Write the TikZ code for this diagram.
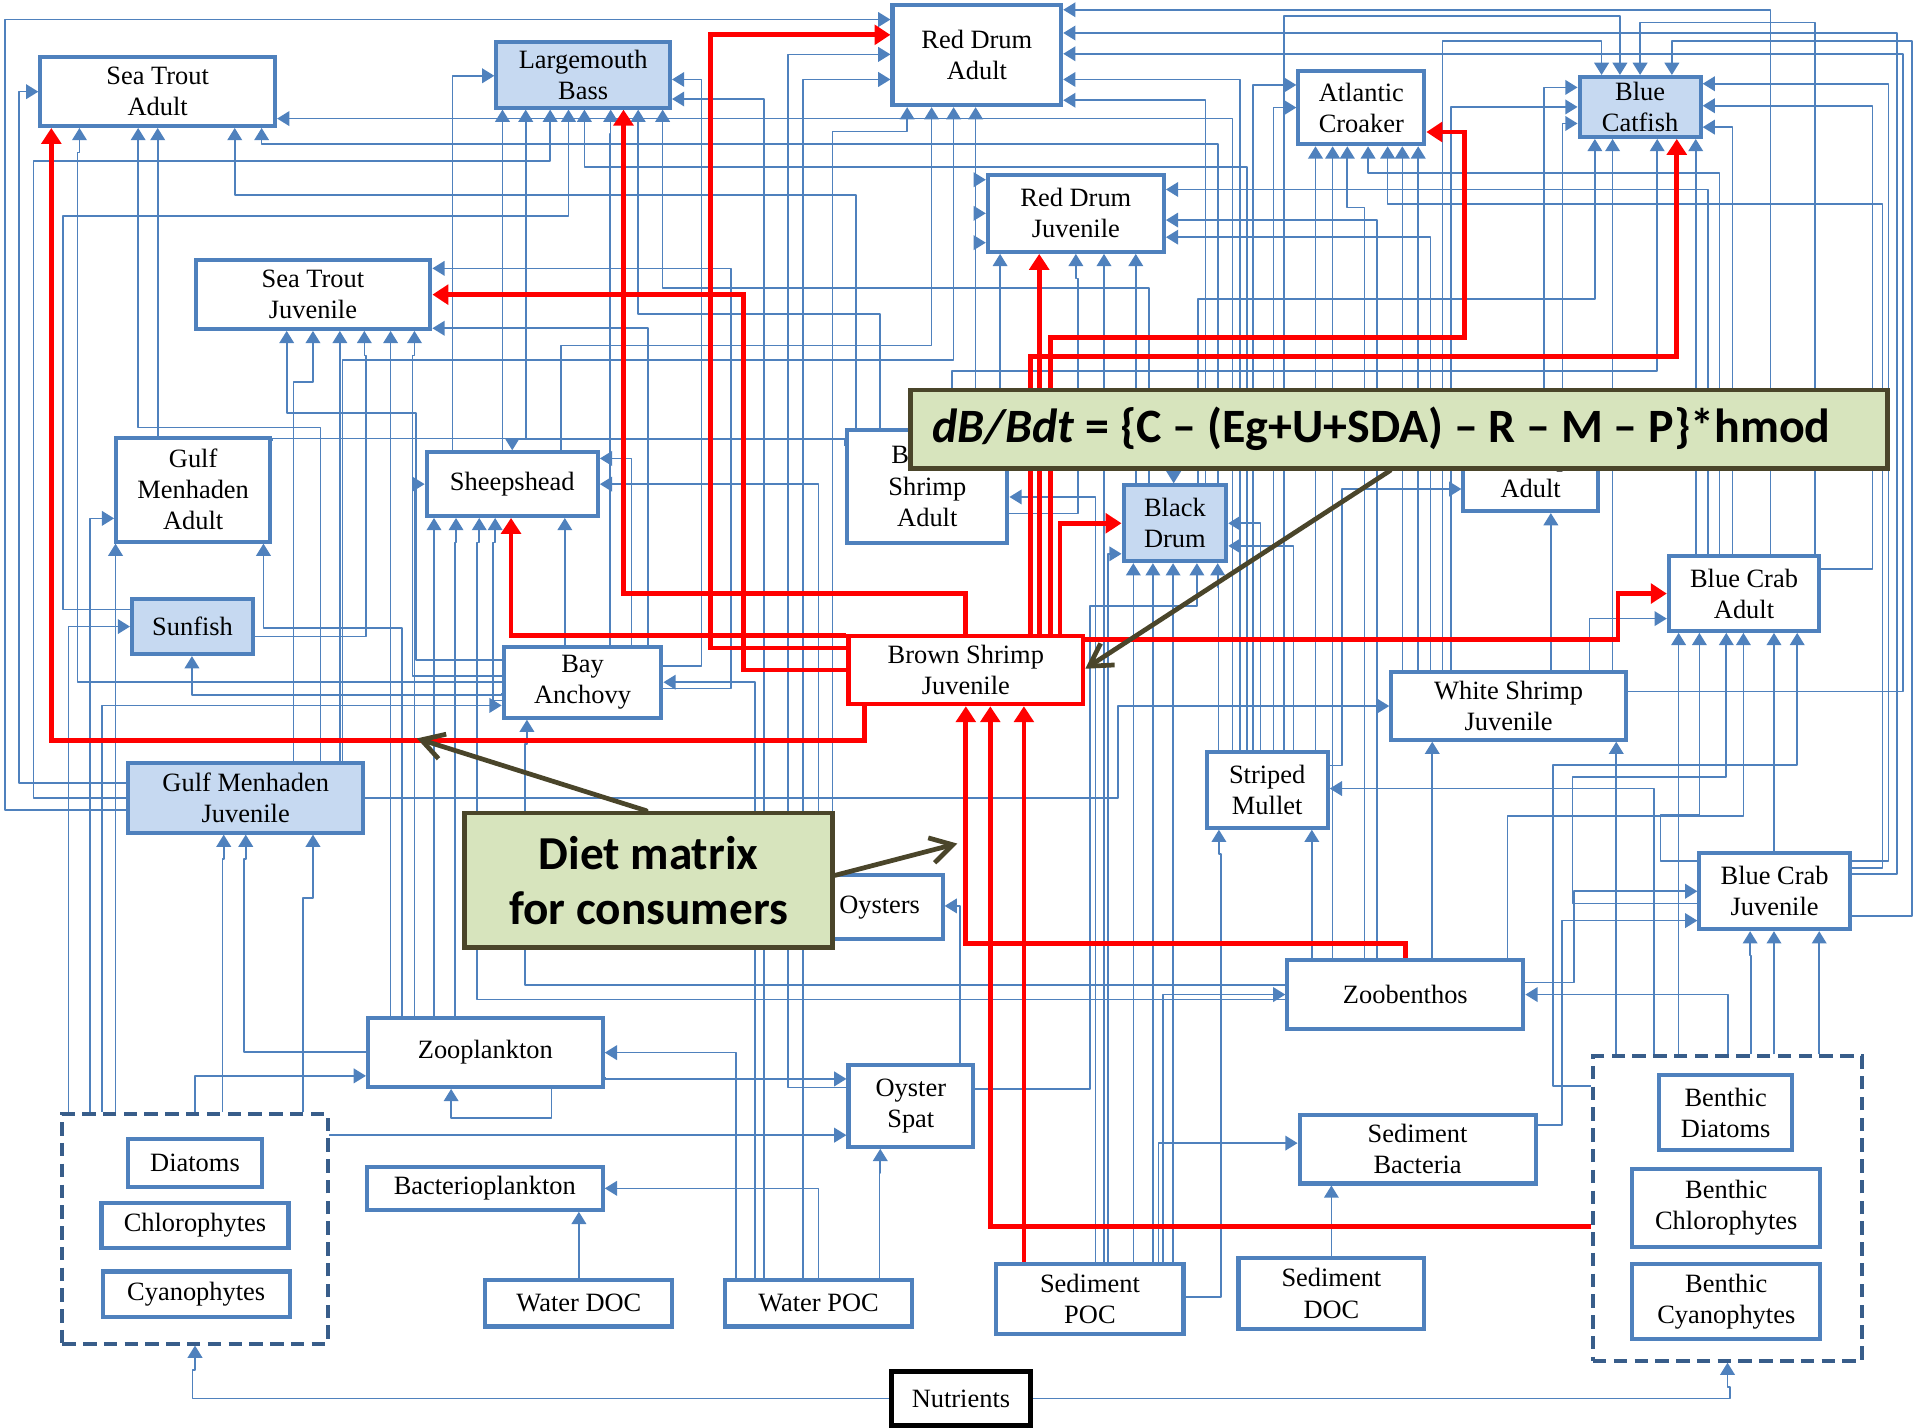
\documentclass[tikz,border=0pt]{standalone}
\usepackage{fontspec}
\setmainfont{Liberation Serif}
\newfontfamily\calib{Carlito}
\usetikzlibrary{calc,arrows.meta}
\definecolor{boxblue}{HTML}{4F81BD}
\definecolor{fillblue}{HTML}{C6D9F1}
\definecolor{dashblue}{HTML}{385D8A}
\definecolor{olivedark}{HTML}{4A452A}
\definecolor{olivelight}{HTML}{D7E4BD}
\pgfdeclarelayer{back}
\pgfsetlayers{back,main}
\tikzset{
  box/.style={draw=boxblue,line width=1.9pt,fill=white,align=center,inner sep=0pt,font=\fontsize{12.3}{14.5}\selectfont},
  shaded/.style={box,fill=fillblue},
  grp/.style={draw=dashblue,line width=1.8pt,dash pattern=on 0.22cm off 0.12cm,fill=white,inner sep=0pt},
  sz/.style 2 args={minimum width=#1*0.02cm,minimum height=#2*0.02cm},
  flow/.style={draw=boxblue,line width=0.75pt,line join=round,-{Triangle[length=0.2cm,width=0.24cm]}},
  prey/.style={draw=red,line width=2.2pt,-{Triangle[length=0.26cm,width=0.32cm]}},
  eqbox/.style={draw=olivedark,line width=2.2pt,fill=olivelight,inner sep=0pt,font=\calib\bfseries\fontsize{22}{25.6}\selectfont},
  note/.style={draw=olivedark,line width=2.2pt,line cap=round,-{Straight Barb[length=0.36cm,width=0.42cm]}}
}

\begin{document}
\begin{tikzpicture}[x=0.02cm,y=-0.02cm]
\useasboundingbox (0,0) rectangle (1568,1168);

\node[box,sz={192}{56}] (sta) at (129,75) {Sea Trout\\Adult};
\node[shaded,sz={142}{54}] (lmb) at (477,61) {Largemouth\\Bass};
\node[box,sz={138}{82}] (rda) at (799,45) {Red Drum\\Adult};
\node[box,sz={103}{60}] (acr) at (1113.5,88) {Atlantic\\Croaker};
\node[shaded,sz={99}{49}] (bcf) at (1341.5,87.5) {Blue\\Catfish};
\node[box,sz={144}{63}] (rdj) at (880,174.5) {Red Drum\\Juvenile};
\node[box,sz={192}{56}] (stj) at (256,241) {Sea Trout\\Juvenile};
\node[box,sz={126}{85}] (gma) at (158,400.5) {Gulf\\Menhaden\\Adult};
\node[box,sz={140}{52}] (shd) at (419,396) {Sheepshead};
\node[box,sz={131}{92}] (bsa) at (758.5,398) {Brown\\Shrimp\\Adult};
\node[shaded,sz={84}{62}] (bkd) at (961,428) {Black\\Drum};
\node[box,sz={110}{88}] (wsa) at (1252,374) {White\\Shrimp\\Adult};
\node[box,sz={123}{61}] (bca) at (1426.5,485.5) {Blue Crab\\Adult};
\node[shaded,sz={99}{45}] (sun) at (157.5,512.5) {Sunfish};
\node[box,sz={129}{58}] (bay) at (476.5,558) {Bay\\Anchovy};
\node[box,draw=red,sz={192}{56}] (bsj) at (790,548) {Brown Shrimp\\Juvenile};
\node[box,sz={192}{55}] (wsj) at (1234,577.5) {White Shrimp\\Juvenile};
\node[box,sz={99}{62}] (smu) at (1036.5,646) {Striped\\Mullet};
\node[shaded,sz={192}{57}] (gmj) at (201,652.5) {Gulf Menhaden\\Juvenile};
\node[box,sz={103}{52}] (oys) at (719.5,742) {Oysters};
\node[box,sz={123}{62}] (bcj) at (1451.5,729) {Blue Crab\\Juvenile};
\node[box,sz={193}{57}] (zob) at (1149.5,813.5) {Zoobenthos};
\node[box,sz={192}{56}] (zoo) at (397,861) {Zooplankton};
\node[box,sz={102}{67}] (osp) at (745,904.5) {Oyster\\Spat};
\node[grp,sz={217}{188}] (phy) at (159.5,1005) {};
\node[box,sz={109}{39}] (dia) at (159.5,951.5) {Diatoms};
\node[box,sz={153}{37}] (chl) at (159.5,1002.5) {Chlorophytes};
\node[box,sz={153}{37}] (cya) at (160.5,1058.5) {Cyanophytes};
\node[box,sz={193}{35}] (bac) at (396.5,972) {Bacterioplankton};
\node[box,sz={193}{56}] (sbac) at (1159.5,940) {Sediment\\Bacteria};
\node[grp,sz={220}{249}] (ben) at (1413,988.5) {};
\node[box,sz={109}{62}] (bdi) at (1411.5,910) {Benthic\\Diatoms};
\node[box,sz={154}{64}] (bch) at (1412,988) {Benthic\\Chlorophytes};
\node[box,sz={154}{61}] (bcy) at (1412,1064.5) {Benthic\\Cyanophytes};
\node[box,sz={153}{38}] (wdoc) at (473.5,1066) {Water DOC};
\node[box,sz={153}{38}] (wpoc) at (669.5,1066) {Water POC};
\node[box,sz={153}{57}] (spoc) at (891.5,1062.5) {Sediment\\POC};
\node[box,sz={152}{58}] (sdoc) at (1089,1058) {Sediment\\DOC};
\node[box,draw=black,line width=2.2pt,sz={114}{44}] (nut) at (786,1144) {Nutrients};

\begin{pgfonlayer}{back}
\foreach \src/\sx/\sy/\hx/\dst/\dx/\lv in {
  bay.west/0/0/-347/sta.south/-64/20, gmj.north/61/0/0/sta.south/-16/245,
  gma.north/-29/0/0/sta.south/0/20, bsa.north/-58.5/0/0/sta.south/63/55,
  bkd.north/35/0/0/sta.south/85/13, shd.north/-8/0/0/lmb.south/-66/20,
  gma.east/0/-40/0/lmb.south/-47/269, gmj.west/0/0/-76/lmb.south/-27/42,
  sun.west/0/-14/-55/lmb.south/-12/87, smu.north/-16.5/0/0/lmb.south/1/47,
  bay.north/22.5/0/0/lmb.south/22.5/20, bsa.north/-38.5/0/0/lmb.south/45/167,
  bkd.north/-21/0/0/lmb.south/65/146, oys.north/-38.5/0/0/rda.south/-57/20,
  shd.north/40/0/0/rda.south/-37/195, gmj.north/79/0/0/rda.south/-19/207,
  bsa.north/39.5/0/0/rda.south/-1/20, bsa.north/59.5/0/0/rdj.south/-62/20,
  bsa.east/0/22/56/rdj.south/0/20, spoc.north/11.5/0/0/rdj.south/23/20,
  bkd.north/-32/0/0/rdj.south/49/20, smu.north/39.5/0/0/acr.south/-37.5/20,
  zob.north/-59.5/0/0/acr.south/-23.5/20, zob.north/-33.5/0/0/acr.south/-11.5/50,
  bca.north/-20/0/0/acr.south/5.5/22, bcj.east/0/-19/25/acr.south/21.5/47,
  wsj.north/-87/0/0/acr.south/33.5/20, wsj.north/-74/0/0/acr.south/46.5/20,
  wsj.north/-54/0/0/bcf.north/-31.5/-28, smu.north/13.5/0/0/bcf.north/-16.5/-48,
  bca.north/58/0/0/bcf.north/0/-43, bcj.east/0/20/49/bcf.north/26/-28,
  bkd.north/19/0/0/bcf.south/-37/131, wsj.north/85/0/0/bcf.south/-22.5/20,
  bsa.north/20/0/0/bcf.south/14/190, bca.north/-39.5/0/0/bcf.south/45.5/20,
  ben.north/-40/0/0/bca.south/-53.5/20, bcj.west/0/-25/-30/bca.south/-36.5/149,
  bcj.west/0/10/-102/bca.south/-14.5/118, zob.north/83.5/0/0/bca.south/-0.5/150,
  bcj.north/-0.5/0/0/bca.south/24.5/20, ben.west/0/-100/-31/bca.south/43.5/108,
  bay.west/0/-18/-70/stj.south/-21.5/67, gmj.north/39/0/0/stj.south/0/42,
  gmj.north/77/0/0/stj.south/22/20, sun.east/0/8/90.7/stj.south/42/20,
  zoo.north/-77.5/0/0/stj.south/63.5/20, bay.west/0/-5/-73/stj.south/83/20,
  phy.north/-65/0/0/gma.south/-63.5/20, zoo.north/-68/0/0/gma.south/57.5/69,
  bsa.west/0/-33/0/shd.north/0/-9, zoo.north/-42/0/0/shd.south/-64/20,
  zoo.north/-25/0/0/shd.south/-46/20, zob.west/0/4/-661/shd.south/-27/20,
  bay.west/0/15/-7/shd.south/-14/20, bay.north/-14.5/0/0/shd.south/43/20,
  spoc.north/35.5/0/0/bkd.south/-34/20, spoc.north/51.5/0/0/bkd.south/-18/20,
  spoc.north/68/0/0/bkd.south/-1.5/20, osp.east/0/-14/94/bkd.south/18/35,
  smu.north/-40/0/0/bkd.south/35/20, wsa.west/0/10/-237/bkd.north/-1/-15,
  wsj.north/34.5/0/0/wsa.south/16.5/20, zob.north/22/0/0/wsj.south/-62.5/20,
  ben.north/-91/0/0/wsj.south/88/20, spoc.east/0/-1.5/29/smu.south/-39.5/20,
  zob.north/-76.5/0/0/smu.south/36.5/20, bay.west/0/9/0/sun.south/-0.5/32,
  phy.north/22.5/0/0/gmj.south/-18/20, zoo.west/0/-0.5/-100/gmj.south/0/20,
  phy.north/88.5/0/0/gmj.south/55/52, zob.west/0/-8/-622/bay.south/-45.5/20,
  wpoc.north/50/0/0/osp.south/-25/20, wdoc.north/0/0/0/bac.south/77/20,
  sdoc.north/0/0/0/sbac.south/-70.5/20, zoo.south/54/0/0/zoo.south/-28/24,
  nut.west/0/0/-569.5/phy.south/0/20, nut.east/0/0/570/ben.south/0/20,
  ben.north/19/0/0/bcj.south/-20/20, ben.north/38/0/0/bcj.south/-0.5/20,
  ben.north/75/0/0/bcj.south/36.5/20}
  \draw[flow] ($(\src)+(\sx,\sy)$) -- ++(\hx,0) |- ($(\dst)+(\dx,\lv)$) -- ($(\dst)+(\dx,0)$);
\foreach \src/\sx/\sy/\hx/\dst/\dy in {
  gmj.west/0/-12/-88/sta.west/0, gmj.west/0/10/-99/rda.west/-29,
  smu.north/-28.5/0/0/sta.east/22, shd.north/-49/0/0/lmb.west/1,
  bay.east/0/-13/31/lmb.east/4, wpoc.north/-44.5/0/0/lmb.east/20,
  osp.west/0/-15/-48/rda.west/-0.5, wpoc.north/-12.5/0/0/rda.west/20,
  bca.north/21.5/0/0/rda.east/-37, bcj.east/0/-14/37/rda.east/-18,
  wsj.east/0/-12/225/rda.east/-1, smu.north/-22.5/0/0/rda.east/20,
  bkd.north/25/0/0/rda.east/37, smu.north/-11.5/0/0/acr.west/-18.5,
  smu.north/5/0/0/acr.west/0, wsa.north/11/0/0/bcf.west/-16,
  wsj.north/-47/0/0/bcf.west/0, wsa.north/26/0/0/bcf.west/13.5,
  bcj.east/0/-25/30/bcf.east/-19, bca.east/0/-20/42/bcf.east/-1,
  bca.north/-9.5/0/0/bcf.east/16.5, bsa.north/39.5/0/0/rdj.west/-27.5,
  bsa.north/39.5/0/0/rdj.west/0, bsa.north/39.5/0/0/rdj.west/24,
  bca.north/-29.5/0/0/rdj.east/-19.5, zob.north/-23/0/0/rdj.east/5.5,
  wsj.north/-64/0/0/rdj.east/19.5, bay.east/0/5/55/stj.east/-21.5,
  bay.north/53.5/0/0/stj.east/27.5, phy.north/-86/0/0/gma.west/23.5,
  bay.north/40/0/0/shd.east/-21, oys.north/-50/0/0/shd.east/0,
  zoo.north/-58/0/0/shd.west/0, spoc.north/4.5/0/0/bsa.east/8.5,
  spoc.north/15/0/0/bkd.west/25, smu.north/-5.5/0/0/bkd.east/0,
  smu.north/21.5/0/0/bkd.east/18.5, smu.east/0/-20/10/wsa.west/26,
  wsj.north/66/0/0/bca.west/20.5, gmj.east/0/0/616/wsj.west/0,
  ben.north/-60/0/0/smu.east/-1, phy.north/-103.5/0/0/sun.west/0,
  phy.north/-76/0/0/bay.west/19, wpoc.north/-52/0/0/bay.east/0,
  osp.north/40/0/0/oys.east/-1, zob.east/0/-10/40/bcj.west/0,
  sbac.east/0/-20/20/bcj.west/24, spoc.north/60/0/0/zob.west/0,
  ben.north/0.5/0/0/zob.east/0, phy.north/0/0/0/zoo.west/19,
  wpoc.north/-67.5/0/0/zoo.east/0, zoo.east/0/20/0/osp.west/-22,
  phy.east/0/-76/0/osp.west/24, wpoc.north/0/0/0/bac.east/0,
  spoc.north/56/0/0/sbac.west/-5}
  \draw[flow] ($(\src)+(\sx,\sy)$) -- ++(\hx,0) |- ($(\dst)+(0,\dy)$);

\draw[prey] ($(bsj.south)+(-83,0)$) |- ($(sta.south)+(-87,501)$) -- ($(sta.south)+(-87,0)$);
\draw[prey] (bsj.west) -- ++(-84,0) |- (stj.east);
\draw[prey] ($(bsj.west)+(0,-18)$) -- ++(-111,0) |- ($(rda.west)+(0,-16.5)$);
\draw[prey] (bsj.north) |- ($(lmb.south)+(33,396)$) -- ($(lmb.south)+(33,0)$);
\draw[prey] ($(bsj.west)+(0,-28)$) -| ($(shd.south)+(-1,0)$);
\draw[prey] ($(bsj.north)+(60,0)$) -- ($(rdj.south)+(-30,0)$);
\draw[prey] ($(bsj.north)+(69,0)$) |- ($(acr.east)+(31,188)$) |- ($(acr.east)+(0,20)$);
\draw[prey] ($(bsj.north)+(53,0)$) |- ($(bcf.south)+(30,178)$) -- ($(bcf.south)+(30,0)$);
\draw[prey] ($(bsj.north)+(77,0)$) |- (bkd.west);
\draw[prey] ($(bsj.east)+(0,-25)$) -| ($(bca.west)+(-40,0)$) -- (bca.west);
\draw[prey] (zob.north) |- ($(bsj.south)+(0,194)$) -- (bsj.south);
\draw[prey] ($(ben.west)+(0,14.5)$) -| ($(bsj.south)+(20,0)$);
\draw[prey] ($(spoc.north)+(-54,0)$) -- ($(bsj.south)+(47.5,0)$);
\end{pgfonlayer}

\node[eqbox,sz={799}{64},font=\calib\bfseries\fontsize{22.3}{26}\selectfont] (form) at (1144.5,351) {\hspace*{-0.58cm}\textit{dB/Bdt} = \{C – (Eg+U+SDA) – R – M – P\}*hmod};
\node[eqbox,sz={301}{110},align=center] (diet) at (530.5,720) {Diet matrix\\for consumers};
\coordinate (dtip1) at (341,604);
\coordinate (dtip2) at (783,690);
\draw[note] ($(form.south)+(-7.5,0)$) -- ($(bsj.east)+(0,-1)$);
\draw[note] ($(diet.north)+(-2,0)$) -- (dtip1);
\draw[note] ($(diet.east)+(0,-4)$) -- (dtip2);
\end{tikzpicture}
\end{document}
